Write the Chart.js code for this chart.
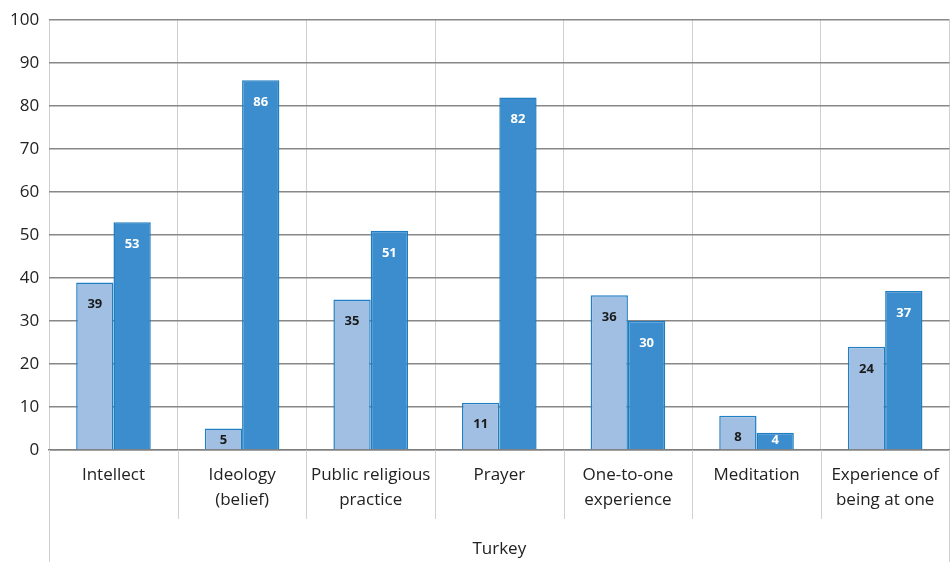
<!DOCTYPE html>
<html>
<head>
<meta charset="utf-8">
<script src="https://cdn.jsdelivr.net/npm/chart.js@4/dist/chart.umd.min.js"></script>
<style>
  html, body { margin: 0; padding: 0; background: #fff; }
  #wrap { width: 952px; height: 562px; }
</style>
</head>
<body>
<div id="wrap"><canvas id="myChart" width="952" height="562"></canvas></div>
<script>
const categories = [
  'Intellect',
  ['Ideology', '(belief)'],
  ['Public religious', 'practice'],
  'Prayer',
  ['One-to-one', 'experience'],
  'Meditation',
  ['Experience of', 'being at one']
];
const groupLabel = 'Turkey';
const lightValues = [39, 5, 35, 11, 36, 8, 24];
const darkValues = [53, 86, 51, 82, 30, 4, 37];
const yTicks = [0, 10, 20, 30, 40, 50, 60, 70, 80, 90, 100];

const FONT = '"Open Sans", "Noto Sans", sans-serif';

// value labels drawn inside the top of each bar
const barLabels = {
  id: 'barLabels',
  afterDatasetsDraw(chart) {
    const ctx = chart.ctx;
    ctx.save();
    ctx.font = 'bold 13px ' + FONT;
    ctx.textAlign = 'center';
    ctx.textBaseline = 'middle';
    chart.data.datasets.forEach((ds, i) => {
      chart.getDatasetMeta(i).data.forEach((bar, j) => {
        let y = bar.y + 22;
        if (y > bar.base - 9) y = bar.base - 9;
        ctx.fillStyle = ds.labelColor;
        ctx.fillText(ds.data[j], bar.x, y);
      });
    });
    ctx.restore();
  }
};

// extended separators below the axis and the group label
const groupAxis = {
  id: 'groupAxis',
  afterDraw(chart) {
    const ctx = chart.ctx;
    const area = chart.chartArea;
    const n = categories.length;
    const step = (area.right - area.left) / n;
    ctx.save();
    ctx.strokeStyle = '#d0d0d0';
    ctx.lineWidth = 1;
    for (let i = 0; i <= n; i++) {
      const x = Math.round(area.left + i * step) + 0.5;
      const end = (i === 0 || i === n) ? chart.height : area.bottom + 69;
      ctx.beginPath();
      ctx.moveTo(x, area.bottom);
      ctx.lineTo(x, end);
      ctx.stroke();
    }
    ctx.fillStyle = '#222';
    ctx.font = '17px ' + FONT;
    ctx.textAlign = 'center';
    ctx.textBaseline = 'middle';
    ctx.fillText(groupLabel, (area.left + area.right) / 2, area.bottom + 99);
    ctx.restore();
  }
};

new Chart(document.getElementById('myChart'), {
  type: 'bar',
  data: {
    labels: categories,
    datasets: [
      {
        data: lightValues,
        backgroundColor: '#a0bfe3',
        borderColor: '#2080c4',
        borderWidth: 1.5,
        labelColor: '#1a1a1a',
        categoryPercentage: 0.58,
        barPercentage: 1
      },
      {
        data: darkValues,
        backgroundColor: '#3b8dcd',
        borderColor: '#1f7dc0',
        borderWidth: 1.5,
        labelColor: '#ffffff',
        categoryPercentage: 0.58,
        barPercentage: 1
      }
    ]
  },
  options: {
    responsive: false,
    animation: false,
    layout: { padding: { left: 0, right: 1, top: -1, bottom: 36 } },
    plugins: {
      legend: { display: false },
      tooltip: { enabled: false }
    },
    scales: {
      x: {
        offset: true,
        grid: { offset: true, color: '#d0d0d0', drawTicks: false },
        border: { color: '#808080', width: 1.5 },
        ticks: { color: '#222', font: { family: FONT, size: 17, lineHeight: 1.47 }, padding: 13, maxRotation: 0, autoSkip: false }
      },
      y: {
        min: 0,
        max: 100,
        afterBuildTicks(axis) { axis.ticks = yTicks.map(v => ({ value: v })); },
        grid: { color: '#888888', lineWidth: 1.5, drawTicks: false },
        border: { display: false },
        ticks: { color: '#222', font: { family: FONT, size: 17 }, padding: 10 }
      }
    }
  },
  plugins: [barLabels, groupAxis]
});
</script>
</body>
</html>
